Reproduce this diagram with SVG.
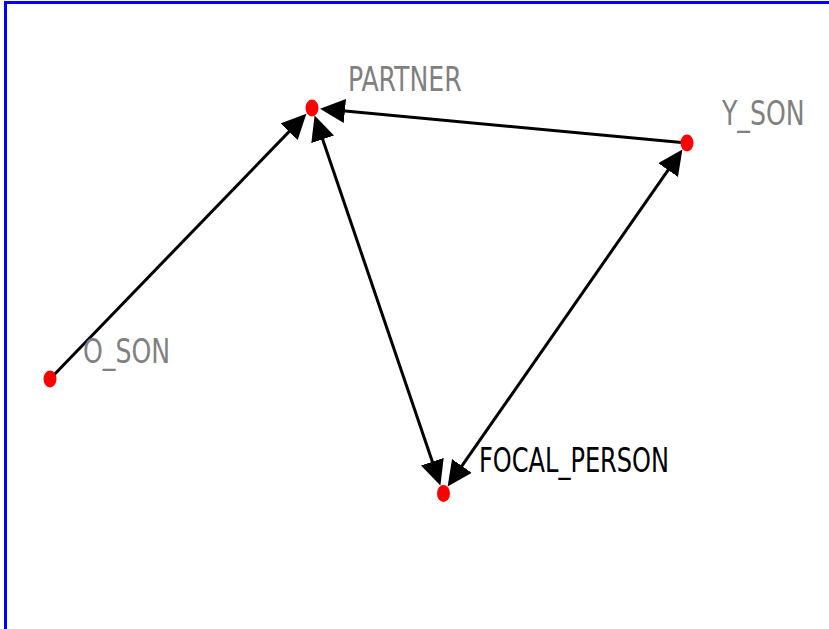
<svg xmlns="http://www.w3.org/2000/svg" width="829" height="629" viewBox="0 0 829 629">
<style>
.edge{stroke:#000;stroke-width:3;fill:none}
.node{fill:#ff0000}
.lbl{font-family:"DejaVu Sans Condensed","DejaVu Sans",sans-serif;font-size:28px;fill:#808080}
.focal{fill:#000}
</style>
<defs>
<marker id="ah" markerUnits="userSpaceOnUse" markerWidth="26" markerHeight="24" refX="21" refY="12" orient="auto-start-reverse" viewBox="0 0 26 24">
<path d="M0,0 L25,12 L0,24 z" fill="#000"/>
</marker>
</defs>
<rect width="829" height="629" fill="#fff"/>
<polyline points="5.5,629 5.5,2.5 829,2.5" fill="none" stroke="#0000ff" stroke-width="3"/>
<g id="connectors">
<line class="edge" x1="50" y1="379" x2="303.6" y2="116.6" marker-end="url(#ah)"/>
<line class="edge" x1="687" y1="143" x2="324" y2="109.1" marker-end="url(#ah)"/>
<line class="edge" x1="315.9" y1="119.4" x2="439.1" y2="481.6" marker-start="url(#ah)" marker-end="url(#ah)"/>
<line class="edge" x1="449.9" y1="483.2" x2="680.1" y2="152.8" marker-start="url(#ah)" marker-end="url(#ah)"/>
</g>
<g id="partner">
<ellipse class="node" cx="312" cy="108" rx="6.5" ry="8.5"/>
<text class="lbl" transform="translate(348,90.5) scale(1,1.22)">PARTNER</text>
</g>
<g id="y_son">
<ellipse class="node" cx="687" cy="143" rx="6.5" ry="8.5"/>
<text class="lbl" transform="translate(722,125) scale(1,1.22)">Y_SON</text>
</g>
<g id="o_son">
<ellipse class="node" cx="50" cy="379" rx="6.5" ry="8.5"/>
<text class="lbl" transform="translate(83,363) scale(1,1.22)">O_SON</text>
</g>
<g id="focal_person">
<ellipse class="node" cx="443.5" cy="493.5" rx="6.5" ry="8.5"/>
<text class="lbl focal" transform="translate(479,472) scale(1,1.22)" textLength="190" lengthAdjust="spacingAndGlyphs">FOCAL_PERSON</text>
</g>
</svg>
